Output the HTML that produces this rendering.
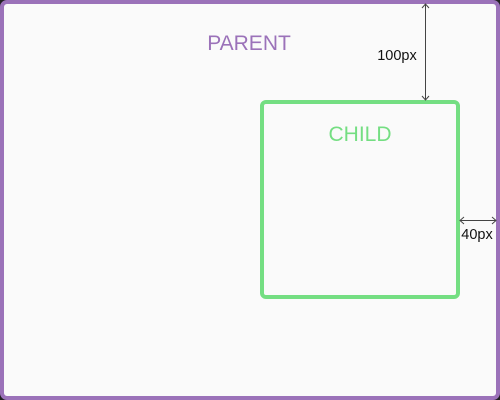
<!DOCTYPE html>
<html><head><style>
html,body{margin:0;padding:0;background:#222;}
svg{display:block;}
text{font-family:"Liberation Sans",sans-serif;}
</style></head><body>
<svg width="500" height="400" viewBox="0 0 500 400" xmlns="http://www.w3.org/2000/svg">
<rect x="0" y="0" width="500" height="400" fill="#222"/>
<rect x="2" y="2" width="496" height="396" rx="5" fill="#fafafa" stroke="#9b72b9" stroke-width="4"/>
<text x="249" y="50" text-anchor="middle" font-size="21" fill="#9b72b9">PARENT</text>
<rect x="262" y="102" width="196" height="195" rx="4" fill="none" stroke="#74de82" stroke-width="4"/>
<text x="360" y="141" text-anchor="middle" font-size="21" fill="#74de82">CHILD</text>
<g stroke="#444" stroke-width="1" fill="none">
<line x1="425.5" y1="4" x2="425.5" y2="100"/>
<polyline points="422,8 425.5,4 429,8"/>
<polyline points="422,96 425.5,100 429,96"/>
<line x1="460" y1="220.5" x2="496" y2="220.5"/>
<polyline points="464,217 460,220.5 464,224"/>
<polyline points="492,217 496,220.5 492,224"/>
</g>
<text x="397" y="60" text-anchor="middle" font-size="14.5" fill="#111">100px</text>
<text x="477" y="239" text-anchor="middle" font-size="14.5" fill="#111">40px</text>
</svg>
</body></html>
